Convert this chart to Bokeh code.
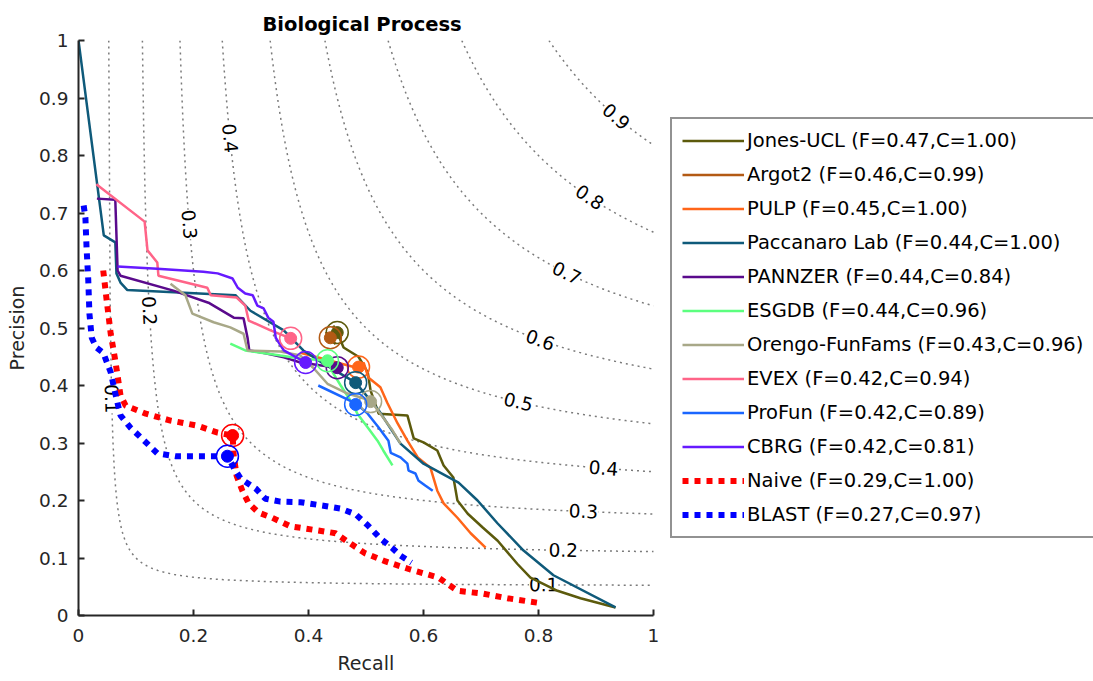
import numpy as np
from bokeh.plotting import figure
from bokeh.models import (Range1d, FixedTicker, CustomJSTickFormatter, Legend,
                          LegendItem, Label, Title)
from bokeh.embed import file_html
from bokeh.resources import INLINE

# ---------------- data ----------------
names = ["Jones-UCL", "Argot2", "PULP", "Paccanaro Lab", "PANNZER", "ESGDB",
         "Orengo-FunFams", "EVEX", "ProFun", "CBRG", "Naive", "BLAST"]
fmax = ["0.47", "0.46", "0.45", "0.44", "0.44", "0.44", "0.43", "0.42", "0.42", "0.42", "0.29", "0.27"]
coverage = ["1.00", "0.99", "1.00", "1.00", "0.84", "0.96", "0.96", "0.94", "0.89", "0.81", "1.00", "0.97"]
colors = ["#5c5a0c", "#b35a14", "#ff6519", "#0f5a7a", "#5a0a8c", "#5cff7f",
          "#a8a888", "#ff6488", "#1a66ff", "#661aff", "#ff0000", "#0000ff"]
dotted = [False] * 10 + [True, True]

jones_r = [0.443, 0.450, 0.461, 0.487, 0.503, 0.508, 0.522, 0.572, 0.583, 0.600, 0.624, 0.635, 0.652,
           0.659, 0.677, 0.703, 0.729, 0.763, 0.786, 0.833, 0.873, 0.934]
jones_p = [0.504, 0.492, 0.466, 0.450, 0.423, 0.391, 0.351, 0.348, 0.308, 0.301, 0.287, 0.261, 0.240,
           0.200, 0.177, 0.153, 0.130, 0.090, 0.066, 0.043, 0.030, 0.014]

argot_r = [0.430, 0.438, 0.447]
argot_p = [0.493, 0.483, 0.472]

pulp_r = [0.386, 0.438, 0.487, 0.496, 0.504, 0.525, 0.537, 0.555, 0.572, 0.590, 0.612, 0.624, 0.635,
          0.659, 0.682, 0.708]
pulp_p = [0.457, 0.443, 0.430, 0.440, 0.414, 0.397, 0.370, 0.334, 0.304, 0.275, 0.257, 0.217, 0.195,
          0.170, 0.143, 0.118]

pacc_r = [0.0, 0.044, 0.064, 0.066, 0.073, 0.085, 0.273, 0.299, 0.357, 0.391, 0.426, 0.482, 0.522,
          0.560, 0.600, 0.661, 0.694, 0.729, 0.774, 0.826, 0.934]
pacc_p = [1.0, 0.661, 0.649, 0.595, 0.579, 0.566, 0.557, 0.530, 0.496, 0.461, 0.438, 0.405, 0.357,
          0.299, 0.264, 0.231, 0.200, 0.160, 0.113, 0.070, 0.014]

pannzer_r = [0.032, 0.064, 0.068, 0.073, 0.165, 0.226, 0.270, 0.287, 0.294, 0.297, 0.325, 0.357,
             0.386, 0.450]
pannzer_p = [0.725, 0.723, 0.600, 0.591, 0.565, 0.544, 0.518, 0.517, 0.483, 0.461, 0.456, 0.449,
             0.440, 0.431]

esgdb_r = [0.264, 0.290, 0.351, 0.386, 0.433, 0.442, 0.456, 0.473, 0.485, 0.503, 0.520, 0.530, 0.546]
esgdb_p = [0.473, 0.461, 0.452, 0.447, 0.443, 0.423, 0.400, 0.374, 0.351, 0.327, 0.304, 0.287, 0.261]

orengo_r = [0.160, 0.186, 0.198, 0.235, 0.264, 0.287, 0.294, 0.351, 0.386, 0.409, 0.433, 0.468,
            0.508, 0.525, 0.546, 0.560]
orengo_p = [0.577, 0.557, 0.525, 0.510, 0.501, 0.490, 0.461, 0.459, 0.452, 0.430, 0.403, 0.386,
            0.374, 0.351, 0.322, 0.299]

evex_r = [0.031, 0.115, 0.120, 0.137, 0.139, 0.224, 0.230, 0.275, 0.290, 0.296, 0.334, 0.369]
evex_p = [0.750, 0.685, 0.635, 0.614, 0.591, 0.570, 0.557, 0.553, 0.539, 0.513, 0.496, 0.482]

profun_r = [0.417, 0.482, 0.503, 0.522, 0.539, 0.543, 0.560, 0.572, 0.574, 0.586, 0.591, 0.603, 0.616]
profun_p = [0.400, 0.369, 0.351, 0.327, 0.304, 0.283, 0.275, 0.264, 0.252, 0.247, 0.235, 0.226, 0.217]

cbrg_r = [0.068, 0.137, 0.217, 0.242, 0.268, 0.277, 0.290, 0.303, 0.311, 0.322, 0.330, 0.339,
          0.343, 0.357, 0.395]
cbrg_p = [0.607, 0.603, 0.598, 0.595, 0.586, 0.570, 0.560, 0.557, 0.539, 0.534, 0.518, 0.511,
          0.483, 0.461, 0.440]

naive_r = [0.043, 0.049, 0.056, 0.063, 0.068, 0.073, 0.082, 0.117, 0.160, 0.207, 0.242, 0.268,
           0.270, 0.275, 0.285, 0.296, 0.313, 0.337, 0.369, 0.416, 0.447, 0.473, 0.499, 0.534,
           0.577, 0.626, 0.659, 0.704, 0.746, 0.807]
naive_p = [0.600, 0.548, 0.490, 0.449, 0.417, 0.383, 0.365, 0.351, 0.339, 0.330, 0.318, 0.313,
           0.278, 0.243, 0.217, 0.195, 0.179, 0.170, 0.155, 0.148, 0.143, 0.125, 0.108, 0.094,
           0.080, 0.066, 0.043, 0.038, 0.030, 0.021]

blast_r = [0.009, 0.012, 0.014, 0.017, 0.019, 0.023, 0.031, 0.043, 0.056, 0.064, 0.073, 0.090,
           0.108, 0.137, 0.169, 0.217, 0.259, 0.270, 0.282, 0.308, 0.325, 0.351, 0.386, 0.426,
           0.456, 0.482, 0.503, 0.525, 0.546, 0.560, 0.579]
blast_p = [0.713, 0.692, 0.640, 0.583, 0.525, 0.483, 0.466, 0.457, 0.423, 0.386, 0.348, 0.327,
           0.310, 0.282, 0.277, 0.277, 0.277, 0.257, 0.238, 0.221, 0.203, 0.198, 0.197, 0.191,
           0.186, 0.176, 0.157, 0.134, 0.117, 0.104, 0.092]

best_r = [0.450, 0.438, 0.487, 0.482, 0.450, 0.433, 0.508, 0.369, 0.482, 0.395, 0.268, 0.259]
best_p = [0.492, 0.483, 0.432, 0.405, 0.431, 0.443, 0.372, 0.482, 0.367, 0.440, 0.313, 0.277]

curves_r = [jones_r, argot_r, pulp_r, pacc_r, pannzer_r, esgdb_r, orengo_r, evex_r, profun_r,
            cbrg_r, naive_r, blast_r]
curves_p = [jones_p, argot_p, pulp_p, pacc_p, pannzer_p, esgdb_p, orengo_p, evex_p, profun_p,
            cbrg_p, naive_p, blast_p]

# iso-F reference curves
f_levels = [0.1, 0.2, 0.3, 0.4, 0.5, 0.6, 0.7, 0.8, 0.9]
top_label_levels = [0.1, 0.2, 0.3, 0.4]
top_label_p = [0.377, 0.53, 0.68, 0.83]
side_label_levels = [0.1, 0.2, 0.3, 0.4, 0.5, 0.6, 0.7, 0.8, 0.9]
side_label_r = [0.809, 0.843, 0.878, 0.913, 0.765, 0.803, 0.849, 0.889, 0.935]

ticks = [0, 0.1, 0.2, 0.3, 0.4, 0.5, 0.6, 0.7, 0.8, 0.9, 1.0]
x_ticks = [0, 0.2, 0.4, 0.6, 0.8, 1.0]

# ---------------- figure ----------------
PX = 575.0
FW = 1015
FH = 575
p = figure(frame_width=FW, frame_height=FH, x_range=Range1d(0, FW / PX), y_range=Range1d(0, 1),
           output_backend="svg", toolbar_location=None,
           min_border_left=78, min_border_top=40, min_border_bottom=66, min_border_right=0)
p.outline_line_color = None
p.xgrid.visible = False
p.ygrid.visible = False
p.background_fill_color = "white"

AX = "#262626"
fmt = CustomJSTickFormatter(code="return tick.toFixed(1).replace('.0', '');")
for ax, tk in ((p.xaxis[0], x_ticks), (p.yaxis[0], ticks)):
    ax.ticker = FixedTicker(ticks=tk)
    ax.formatter = fmt
    ax.bounds = (0, 1)
    ax.axis_line_color = AX
    ax.axis_line_width = 2
    ax.major_tick_line_color = AX
    ax.major_tick_line_width = 2
    ax.major_tick_in = 6
    ax.major_tick_out = 0
    ax.minor_tick_line_color = None
    ax.major_label_text_font = "DejaVu Sans"
    ax.major_label_text_font_size = "18.5px"
    ax.major_label_text_color = AX
    ax.major_label_standoff = 10
p.xaxis[0].major_label_standoff = 13
p.yaxis[0].axis_label = "Precision"
p.yaxis[0].axis_label_text_font = "DejaVu Sans"
p.yaxis[0].axis_label_text_font_size = "19px"
p.yaxis[0].axis_label_text_font_style = "normal"
p.yaxis[0].axis_label_text_color = AX
p.yaxis[0].axis_label_standoff = 8

# title (centred over the 0..1 axes)
p.title.text = "Biological Process"
p.title.align = "left"
p.title.offset = 184
p.title.text_font = "DejaVu Sans"
p.title.text_font_size = "19.5px"
p.title.text_font_style = "bold"
p.title.text_color = "black"
p.title.standoff = 10

p.add_layout(Title(text="Recall", align="left", offset=259, text_font="DejaVu Sans",
                   text_font_size="19px", text_font_style="normal", text_color=AX,
                   standoff=11), "below")

# iso-F curves
for f in f_levels:
    r0 = f / (2 - f)
    rr = np.linspace(r0, 1.0, 400)
    pp = f * rr / (2 * rr - f)
    p.line(rr, pp, line_color="#7a7a7a", line_width=1.5, line_dash="2 4", level="image")


def add_flabel(f, r, pr):
    slope = -f * f / (2 * r - f) ** 2
    ang = np.arctan(slope)
    p.add_layout(Label(x=r, y=pr, text=f"{f:.1f}", angle=float(ang), text_align="center",
                       text_baseline="middle", text_font="DejaVu Sans", text_font_size="18.5px",
                       text_color="black", background_fill_color="white", level="underlay"))


for f, pr in zip(top_label_levels, top_label_p):
    add_flabel(f, f * pr / (2 * pr - f), pr)
for f, r in zip(side_label_levels, side_label_r):
    add_flabel(f, r, f * r / (2 * r - f))

# method curves
items = []
for i, name in enumerate(names):
    if dotted[i]:
        rend = p.line(curves_r[i], curves_p[i], line_color=colors[i], line_width=6,
                      line_dash="6 6", line_cap="butt")
    else:
        rend = p.line(curves_r[i], curves_p[i], line_color=colors[i], line_width=2.5)
    items.append(LegendItem(label=f"{name} (F={fmax[i]},C={coverage[i]})", renderers=[rend]))

for i in range(len(names)):
    p.scatter([best_r[i]], [best_p[i]], size=12, fill_color=colors[i], line_color=colors[i])
    p.scatter([best_r[i]], [best_p[i]], size=22, fill_color=None, line_color=colors[i],
              line_width=1.5)

legend = Legend(items=items, location=(592, 77))
legend.label_text_font = "DejaVu Sans"
legend.label_text_font_size = "19.5px"
legend.label_text_color = "black"
legend.glyph_width = 62
legend.glyph_height = 23
legend.label_height = 23
legend.label_standoff = 3
legend.spacing = 11
legend.padding = 10
legend.margin = 0
legend.border_line_color = AX
legend.border_line_width = 2
legend.background_fill_color = "white"
legend.background_fill_alpha = 1.0
p.add_layout(legend)

open("out.html", "w").write(file_html(p, INLINE))
